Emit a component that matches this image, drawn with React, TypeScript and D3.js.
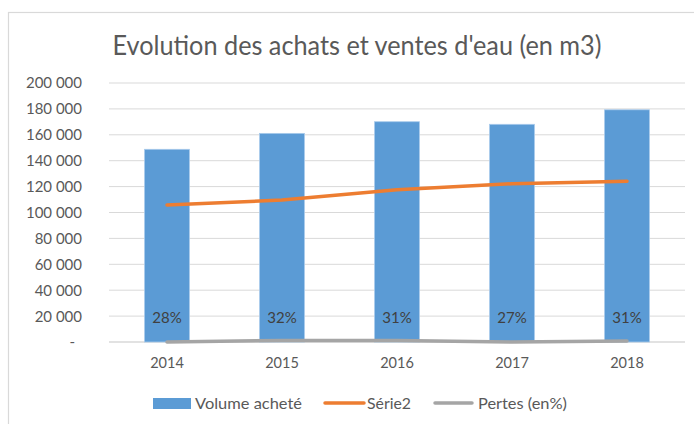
import React from "react";
import * as d3 from "d3";

const years = ["2014", "2015", "2016", "2017", "2018"];
const volumeAchete = [148800, 161100, 170100, 168100, 179300];
const serie2 = [105800, 109600, 117600, 122200, 124200];
const pertesLine = [0, 1200, 1100, 0, 700];
const pertesLabels = ["28%", "32%", "31%", "27%", "31%"];
const yTicks = [0, 20000, 40000, 60000, 80000, 100000, 120000, 140000, 160000, 180000, 200000];

const W = 694;
const H = 424;
const FONT = "Lato, 'Open Sans', sans-serif";

function fmt(v: number): string {
  if (v === 0) return "-";
  return d3.format(",")(v).replace(/,/g, " ");
}

export default function App() {
  const x = d3
    .scaleBand<string>()
    .domain(years)
    .range([109.5, 684.5])
    .paddingInner(0.61)
    .paddingOuter(0.305);
  const y = d3.scaleLinear().domain([0, 200000]).range([342, 83]);
  const cx = (i: number) => (x(years[i]) as number) + x.bandwidth() / 2;

  const line = d3
    .line<number>()
    .x((_, i) => cx(i))
    .y((d) => y(d));

  return (
    <svg
      width={W}
      height={H}
      style={{ position: "absolute", left: 0, top: 0, background: "#fff" }}
      fontFamily={FONT}
    >
      <rect x={8.5} y={12.5} width={W + 20} height={H + 20} fill="#fff" stroke="#D9D9D9" strokeWidth={1.2} />
      <text
        x={357}
        y={55}
        textAnchor="middle"
        fontSize={26}
        fill="#595959"
        textLength={489}
        lengthAdjust="spacingAndGlyphs"
      >
        Evolution des achats et ventes d'eau (en m3)
      </text>

      {yTicks.map((t) => (
        <g key={t}>
          <line
            x1={109}
            x2={685}
            y1={y(t)}
            y2={y(t)}
            stroke="#D9D9D9"
            strokeWidth={t === 0 ? 1.5 : 1}
          />
          <text
            x={t === 0 ? 75 : 82}
            y={y(t)}
            dy="0.36em"
            textAnchor="end"
            fontSize={15}
            fill="#595959"
          >
            {fmt(t)}
          </text>
        </g>
      ))}

      {volumeAchete.map((v, i) => (
        <rect
          key={years[i]}
          x={x(years[i])}
          y={y(v)}
          width={x.bandwidth()}
          height={y(0) - y(v)}
          fill="#5B9BD5"
          stroke="#A8CAEB"
          strokeWidth={0.8}
        />
      ))}

      <path d={line(serie2) || ""} fill="none" stroke="#ED7D31" strokeWidth={3.5} strokeLinecap="round" strokeLinejoin="round" />
      <path d={line(pertesLine) || ""} fill="none" stroke="#A5A5A5" strokeWidth={3.5} strokeLinecap="round" strokeLinejoin="round" />

      {pertesLabels.map((l, i) => (
        <text key={l + i} x={cx(i)} y={y(0) - 19} textAnchor="middle" fontSize={15} fill="#404040">
          {l}
        </text>
      ))}

      {years.map((yr, i) => (
        <text key={yr} x={cx(i)} y={368} textAnchor="middle" fontSize={14.5} fill="#595959">
          {yr}
        </text>
      ))}

      <g fontSize={15} fill="#595959">
        <rect x={153} y={398} width={38} height={11} fill="#5B9BD5" />
        <text x={195} y={409} textLength={107} lengthAdjust="spacingAndGlyphs">Volume acheté</text>
        <line x1={325} x2={364} y1={403} y2={403} stroke="#ED7D31" strokeWidth={3.5} strokeLinecap="round" />
        <text x={367} y={409} textLength={44} lengthAdjust="spacingAndGlyphs">Série2</text>
        <line x1={435} x2={472} y1={403} y2={403} stroke="#A5A5A5" strokeWidth={3.5} strokeLinecap="round" />
        <text x={478} y={409} textLength={89} lengthAdjust="spacingAndGlyphs">Pertes (en%)</text>
      </g>
    </svg>
  );
}
